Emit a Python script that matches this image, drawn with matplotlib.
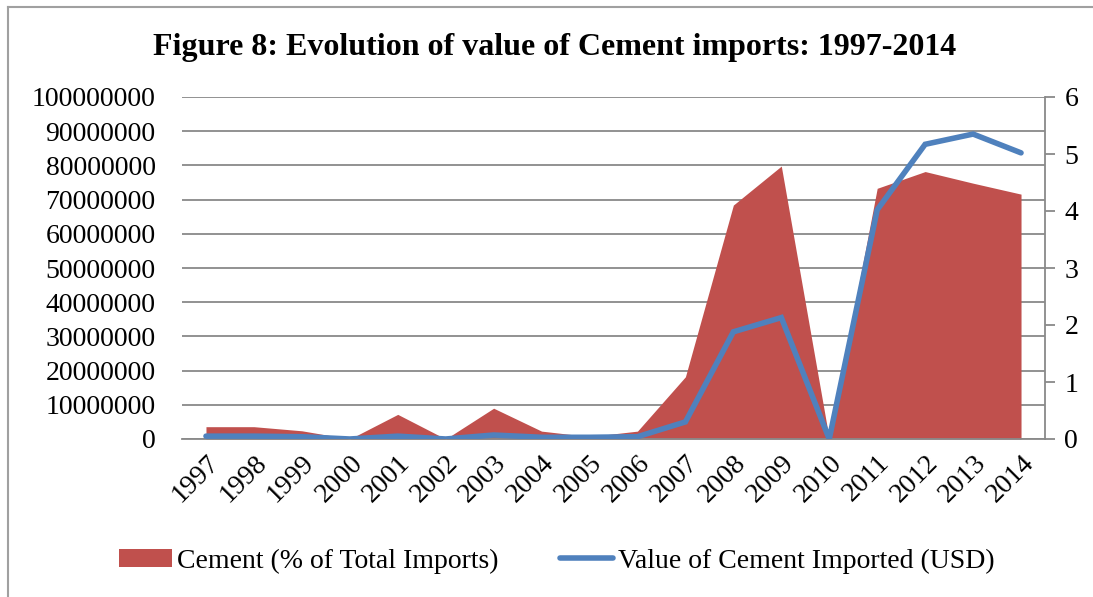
import matplotlib
matplotlib.use('Agg')
import matplotlib.pyplot as plt
from matplotlib.lines import Line2D
from matplotlib.patches import Patch

# Data
years = [str(y) for y in range(1997, 2015)]
# red area, drawn against the left axis
cement_area = [3600000, 3600000, 2400000, 0, 7200000, 0, 9000000, 2300000, 700000,
               2300000, 18200000, 68400000, 79800000, 0, 73300000, 78200000, 74800000, 71600000]
# blue line, drawn against the right axis
cement_line = [0.05, 0.05, 0.04, 0.0, 0.05, 0.0, 0.07, 0.03, 0.03,
               0.04, 0.30, 1.88, 2.13, 0.0, 4.02, 5.17, 5.35, 5.02]
left_ticks = list(range(0, 100000001, 10000000))
right_ticks = [0, 1, 2, 3, 4, 5, 6]
area_label = 'Cement (% of Total Imports)'
line_label = 'Value of Cement Imported (USD)'
title = 'Figure 8: Evolution of value of Cement imports: 1997-2014'

red = '#C0504D'
blue = '#4F81BD'
grey = '#898989'
serif = 'Liberation Serif'

fig = plt.figure(figsize=(10.93, 5.97), dpi=100)
ax = fig.add_axes([182 / 1093, 1 - 439 / 597, (1045 - 182) / 1093, (439 - 97) / 597])
ax2 = ax.twinx()

x = list(range(len(years)))
ax.fill_between(x, cement_area, 0, color=red, linewidth=0, zorder=2)
ax.set_ylim(0, 100000000)
ax.set_yticks(left_ticks)
ax.set_yticklabels([str(v) for v in left_ticks], fontsize=20, family=serif)
ax.set_xlim(-0.5, len(years) - 0.5)
ax.set_xticks(x)
ax.set_xticklabels(years, rotation=45, ha='right', rotation_mode='anchor',
                   fontsize=20, family=serif)
ax.tick_params(axis='y', length=0, pad=19)
ax.tick_params(axis='x', length=0, pad=8)
ax.grid(axis='y', color=grey, linewidth=1.3, zorder=1)
ax.set_axisbelow(True)
for s in ['top', 'left', 'right']:
    ax.spines[s].set_visible(False)
ax.spines['bottom'].set_color(grey)
ax.spines['bottom'].set_linewidth(1.3)

ax2.plot(x, cement_line, color=blue, linewidth=4, solid_capstyle='round',
         solid_joinstyle='miter', zorder=3)
ax2.set_ylim(0, 6)
ax2.set_yticks(right_ticks)
ax2.set_yticklabels([str(v) for v in right_ticks], fontsize=20, family=serif)
ax2.tick_params(axis='y', length=7, width=1.3, color=grey, pad=7)
for s in ['top', 'left', 'bottom']:
    ax2.spines[s].set_visible(False)
ax2.spines['right'].set_color(grey)
ax2.spines['right'].set_linewidth(1.3)

fig.text(555 / 1093, 1 - 47 / 597, title, ha='center', va='center',
         fontsize=23, fontweight='bold', family=serif)

handles = [Patch(facecolor=red, edgecolor='none'),
           Line2D([0], [0], color=blue, linewidth=4, solid_capstyle='round')]
fig.legend(handles, [area_label, line_label], loc='center',
           bbox_to_anchor=(557 / 1093, 1 - 561 / 597), ncol=2, frameon=False,
           prop={'family': serif, 'size': 20}, handlelength=1.9, handleheight=0.6,
           handletextpad=0.2, columnspacing=2.2)

# outer chart border (top and left edges visible)
fig.add_artist(Line2D([8 / 1093, 8 / 1093], [0, 1 - 7 / 597], color='#A0A0A0', linewidth=1.5,
                      transform=fig.transFigure))
fig.add_artist(Line2D([8 / 1093, 1], [1 - 7 / 597, 1 - 7 / 597], color='#A0A0A0', linewidth=1.5,
                      transform=fig.transFigure))

fig.savefig('out.png', dpi=100)
